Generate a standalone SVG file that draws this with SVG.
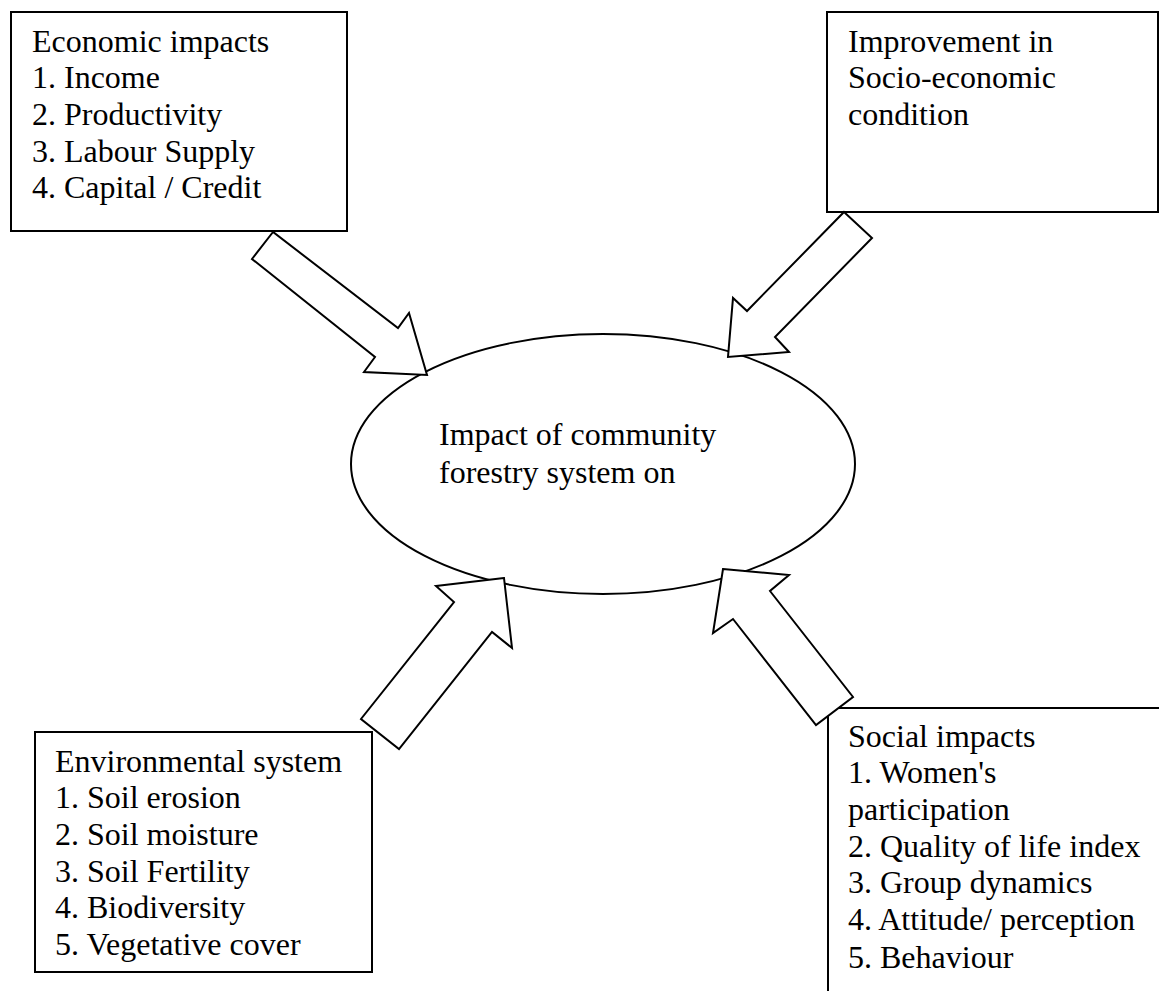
<svg xmlns="http://www.w3.org/2000/svg" width="1159" height="991" viewBox="0 0 1159 991">
<style>
.box{fill:#fff;stroke:#000;stroke-width:2}
.arr{fill:#fff;stroke:#000;stroke-width:2;stroke-linejoin:miter}
text{font-family:"Liberation Serif","Times New Roman",serif;font-size:32px;fill:#000}
</style>
<rect width="1159" height="991" fill="#fff"/>
<g id="economic">
<rect class="box" x="11" y="12" width="336" height="219"/>
<text x="32" y="52">Economic impacts</text>
<text x="32" y="88">1. Income</text>
<text x="32" y="125">2. Productivity</text>
<text x="32" y="162">3. Labour Supply</text>
<text x="32" y="198">4. Capital / Credit</text>
</g>
<g id="improvement">
<rect class="box" x="827" y="12" width="331" height="200"/>
<text x="848" y="52">Improvement in</text>
<text x="848" y="88">Socio-economic</text>
<text x="848" y="125">condition</text>
</g>
<g id="impact">
<ellipse class="box" cx="603" cy="464" rx="252" ry="130"/>
<text x="439" y="445">Impact of community</text>
<text x="439" y="483">forestry system on</text>
</g>
<g id="environmental">
<rect class="box" x="35" y="732" width="337" height="240"/>
<text x="55" y="772">Environmental system</text>
<text x="55" y="808">1. Soil erosion</text>
<text x="55" y="845">2. Soil moisture</text>
<text x="55" y="882">3. Soil Fertility</text>
<text x="55" y="918">4. Biodiversity</text>
<text x="55" y="955">5. Vegetative cover</text>
</g>
<g id="social">
<rect class="box" x="828" y="708" width="400" height="400"/>
<text x="848" y="747">Social impacts</text>
<text x="848" y="783">1. Women's</text>
<text x="848" y="820">participation</text>
<text x="848" y="857">2. Quality of life index</text>
<text x="848" y="893">3. Group dynamics</text>
<text x="848" y="930">4. Attitude/ perception</text>
<text x="848" y="968">5. Behaviour</text>
</g>
<g id="connectors">
<polygon class="arr" points="273,232 252,259 375,357 364,372 427,375 409,313 398,328"/>
<polygon class="arr" points="844,212 872,238 775,337 789,352 728,357 733,298 747,311"/>
<polygon class="arr" points="504,578 436,586 454,602 361,719 399,749 492,632 512,648"/>
<polygon class="arr" points="723,569 789,575 770,591 853,697 816,725 733,619 713,633"/>
</g>
</svg>
